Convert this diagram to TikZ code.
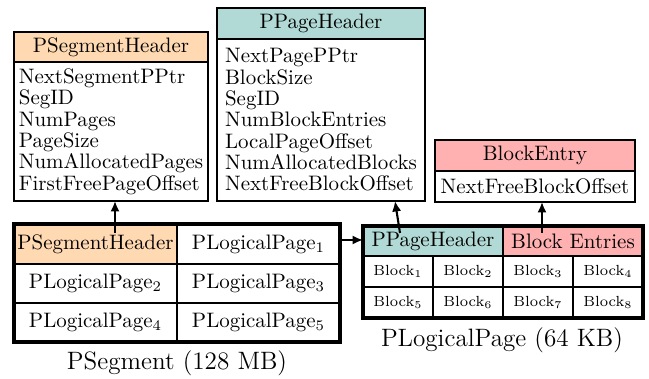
\documentclass[tikz,border=0pt]{standalone}
\usetikzlibrary{arrows.meta}
\newcommand\pxu{0.4775pt}
\definecolor{segc}{RGB}{255,217,178}
\definecolor{pagec}{RGB}{177,218,214}
\definecolor{blkc}{RGB}{255,176,176}
\tikzset{
  hdr/.style={draw, line width=1pt, inner sep=0pt, outer sep=0pt, font=\fontsize{10}{12}\selectfont},
  body/.style={draw, line width=1pt, inner sep=0pt, outer sep=0pt, align=left, font=\fontsize{10}{10.2}\selectfont},
  cell/.style={draw, line width=0.5pt, inner sep=0pt, outer sep=0pt, font=\fontsize{10}{12}\selectfont},
  bcell/.style={draw, line width=0.5pt, inner sep=0pt, outer sep=0pt, font=\scriptsize, minimum width=70*\pxu, minimum height=31*\pxu},
  tableborder/.style={draw, line width=1.6pt},
  arr/.style={line width=1pt, -{Latex[length=5pt,width=4.4pt]}},
  captext/.style={font=\fontsize{12}{14}\selectfont}
}
\begin{document}
\begin{tikzpicture}[x=\pxu, y=-\pxu]
\useasboundingbox (0,0) rectangle (649,379);
% PSegmentHeader box
\node[hdr, fill=segc, minimum width=194*\pxu, minimum height=30*\pxu] (sh) at (111,47) {PSegmentHeader};
\node[body, minimum width=194*\pxu, minimum height=139*\pxu] (sb) at (111,131.5) {NextSegmentPPtr\\SegID\\NumPages\\PageSize\\NumAllocatedPages\\FirstFreePageOffset};
% PPageHeader box
\node[hdr, fill=pagec, minimum width=208*\pxu, minimum height=31*\pxu] (ph) at (321,23.5) {PPageHeader};
\node[body, minimum width=208*\pxu, minimum height=162*\pxu] (pb) at (321,120) {NextPagePPtr\\BlockSize\\SegID\\NumBlockEntries\\LocalPageOffset\\NumAllocatedBlocks\\NextFreeBlockOffset};
% BlockEntry box
\node[hdr, fill=blkc, minimum width=200*\pxu, minimum height=31*\pxu] (bh) at (535,155.5) {BlockEntry};
\node[body, minimum width=200*\pxu, minimum height=31*\pxu] (bb) at (535,186.5) {NextFreeBlockOffset};
% PSegment table
\node[cell, fill=segc, minimum width=163*\pxu, minimum height=40*\pxu] (s11) at (95.5,244) {PSegmentHeader};
\node[cell, minimum width=163*\pxu, minimum height=40*\pxu] (s12) at (258.5,244) {PLogicalPage$_1$};
\node[cell, minimum width=163*\pxu, minimum height=39*\pxu] (s21) at (95.5,283.5) {PLogicalPage$_2$};
\node[cell, minimum width=163*\pxu, minimum height=39*\pxu] (s22) at (258.5,283.5) {PLogicalPage$_3$};
\node[cell, minimum width=163*\pxu, minimum height=39*\pxu] (s31) at (95.5,322.5) {PLogicalPage$_4$};
\node[cell, minimum width=163*\pxu, minimum height=39*\pxu] (s32) at (258.5,322.5) {PLogicalPage$_5$};
\path[tableborder] (s11.north west) rectangle (s32.south east);
\node[captext] (segcap) at (177,363) {PSegment (128 MB)};
% PLogicalPage table
\node[cell, fill=pagec, minimum width=140*\pxu, minimum height=30*\pxu] (lh) at (433,241) {PPageHeader};
\node[cell, fill=blkc, minimum width=140*\pxu, minimum height=30*\pxu] (le) at (573,241) {Block Entries};
\node[bcell] (b1) at (398,271.5) {Block$_1$};
\node[bcell] (b2) at (468,271.5) {Block$_2$};
\node[bcell] (b3) at (538,271.5) {Block$_3$};
\node[bcell] (b4) at (608,271.5) {Block$_4$};
\node[bcell] (b5) at (398,302.5) {Block$_5$};
\node[bcell] (b6) at (468,302.5) {Block$_6$};
\node[bcell] (b7) at (538,302.5) {Block$_7$};
\node[bcell] (b8) at (608,302.5) {Block$_8$};
\path[tableborder] (lh.north west) rectangle (b8.south east);
\node[captext] (pagecap) at (502,340) {PLogicalPage (64 KB)};
% arrows
\coordinate (a1s) at (115,233);
\coordinate (a2s) at (340,240);
\coordinate (a3s) at (400,233);
\coordinate (a3e) at (395,201);
\coordinate (a4s) at (542,233);
\draw[arr] (a1s) -- (a1s |- sb.south);
\draw[arr] (a2s) -- (a2s -| lh.west);
\draw[arr] (a3s) -- (a3e);
\draw[arr] (a4s) -- (a4s |- bb.south);
\end{tikzpicture}
\end{document}
